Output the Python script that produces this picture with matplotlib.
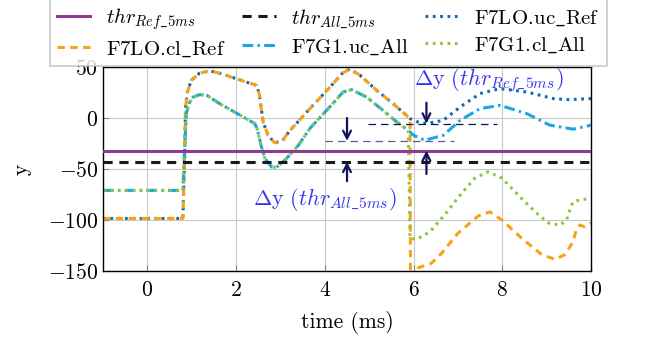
import matplotlib
matplotlib.use('Agg')
import matplotlib.pyplot as plt
import numpy as np

plt.rcParams['font.family'] = 'serif'
plt.rcParams['font.serif'] = ['cmr10']
plt.rcParams['mathtext.fontset'] = 'cm'
plt.rcParams['axes.formatter.use_mathtext'] = True
plt.rcParams['font.size'] = 15.5

# thresholds
thr_ref = -32
thr_all = -43

# F7LO curves (uc and cl identical until the switch near 6 ms)
t_lo = [-1, 0.80, 0.84, 0.86, 0.90, 0.99, 1.18, 1.41, 1.70, 2.00, 2.46, 2.52, 2.61, 2.72,
        2.87, 3.05, 3.20, 3.66, 4.11, 4.40, 4.56, 4.79, 5.17, 5.54, 5.92]
y_lo = [-98.5, -98.5, -40, 10, 25, 37, 44, 46.3, 43, 38.5, 32, 24, -4, -17,
        -24.5, -22, -13, 9, 30, 44, 48, 42, 27, 14, -0.6]

t_lo_uc = [6.10, 6.29, 6.67, 7.05, 7.50, 7.95, 8.55, 9.15, 9.50, 10.0]
y_lo_uc = [-4, -5.5, -2.3, 10.8, 24, 28.8, 25.5, 19, 18, 19]

t_lo_cl = [5.93, 6.03, 6.10, 6.40, 6.63, 7.00, 7.46, 7.72, 7.99, 8.44, 8.89, 9.19,
           9.41, 9.60, 9.66, 9.75, 9.86, 10.0]
y_lo_cl = [-155, -155, -147, -142.5, -132.7, -113, -96, -92, -100, -118, -134, -138.6,
           -134, -121, -110, -105, -106.6, -102.7]

# F7G1 curves
t_g1 = [-1, 0.80, 0.84, 0.88, 0.95, 1.03, 1.18, 1.35, 1.63, 2.00, 2.42, 2.47, 2.57, 2.65,
        2.80, 2.91, 3.13, 3.40, 3.66, 4.11, 4.41, 4.60, 4.94, 5.31, 5.62, 5.88]
y_g1 = [-71, -71, -30, 5, 15, 20.5, 22.9, 22, 14, 5, -5.5, -10, -28, -39.7,
        -48, -48.5, -40, -27, -10.4, 10.8, 25.4, 27.8, 20.5, 7.5, -3.9, -12]

t_g1_uc = [6.00, 6.25, 6.67, 7.05, 7.50, 7.95, 8.55, 9.07, 9.60, 10.0]
y_g1_uc = [-17, -21.8, -17, -2.3, 9.2, 12.4, 4.3, -7, -11, -7]

t_g1_cl = [5.92, 6.07, 6.37, 6.70, 7.05, 7.38, 7.68, 7.99, 8.36, 8.74, 9.04, 9.30,
           9.45, 9.53, 9.60, 9.79, 10.0]
y_g1_cl = [-118, -119, -111.5, -95, -75.6, -59, -52.8, -59, -75.6, -92, -103, -105,
           -100, -88.6, -82, -80, -79]

# delta-y markers
dy_ref_t = 6.29
dy_ref_level = -5.5
dy_all_t = 4.5
dy_all_level = -22.5

c_purple = '#8e3c92'
c_orange = '#f7a21b'
c_dblue = '#1068b4'
c_lblue = '#1ba8e0'
c_green = '#8cc63f'
c_navy = '#12125c'
c_text = '#3838f0'

fig = plt.figure(figsize=(6.49, 3.4), dpi=100)
ax = fig.add_axes([0.1587, 0.203, 0.752, 0.600])

h_ref, = ax.plot([-1, 10], [thr_ref, thr_ref], color=c_purple, lw=2.2, zorder=5,
                 label=r'$thr_{Ref\_5ms}$')
h_all, = ax.plot([-1, 10], [thr_all, thr_all], color='#1a1a1a', lw=2.2, dashes=(3, 2.2), zorder=5,
                 label=r'$thr_{All\_5ms}$')

h_lo_uc, = ax.plot(t_lo + t_lo_uc, y_lo + y_lo_uc, color=c_dblue, lw=2.2, dashes=(0.9, 1.5),
                   label=r'$\mathrm{F7LO.\!uc\_Ref}$')
h_lo_cl, = ax.plot(t_lo + t_lo_cl, y_lo + y_lo_cl, color=c_orange, lw=2.2, dashes=(2.4, 1.8),
                   label=r'$\mathrm{F7LO.\!cl\_Ref}$')
h_g1_uc, = ax.plot(t_g1 + t_g1_uc, y_g1 + y_g1_uc, color=c_lblue, lw=2.2, dashes=(3.5, 1.4, 0.8, 1.4),
                   label=r'$\mathrm{F7G1.\!uc\_All}$')
h_g1_cl, = ax.plot(t_g1 + t_g1_cl, y_g1 + y_g1_cl, color=c_green, lw=2.2, dashes=(0.9, 1.5),
                   label=r'$\mathrm{F7G1.\!cl\_All}$')

# reference levels for the delta-y arrows
ax.plot([4.97, 7.88], [dy_ref_level, dy_ref_level], color=c_navy, lw=0.9, dashes=(6, 4), zorder=6)
ax.plot([4.0, 6.9], [dy_all_level, dy_all_level], color='#5c5c9c', lw=0.9, dashes=(6, 4), zorder=6)

arr = dict(arrowstyle='->', color=c_navy, lw=1.6, mutation_scale=14, shrinkA=0, shrinkB=0)
ax.annotate('', xy=(dy_all_t, dy_all_level), xytext=(dy_all_t, 0), arrowprops=arr, zorder=7)
ax.annotate('', xy=(dy_all_t, thr_all), xytext=(dy_all_t, -62), arrowprops=arr, zorder=7)
ax.annotate('', xy=(dy_ref_t, dy_ref_level), xytext=(dy_ref_t, 15), arrowprops=arr, zorder=7)
ax.annotate('', xy=(dy_ref_t, thr_ref), xytext=(dy_ref_t, -55), arrowprops=arr, zorder=7)

ax.text(7.7, 37, r'$\Delta\mathrm{y}\ (thr_{Ref\_5ms})$', color=c_text, ha='center', va='center',
        fontsize=16, zorder=8)
ax.text(4.0, -80, r'$\Delta\mathrm{y}\ (thr_{All\_5ms})$', color=c_text, ha='center', va='center',
        fontsize=16, zorder=8)

ax.set_xlim(-1, 10)
ax.set_ylim(-150, 50)
ax.set_xticks([0, 2, 4, 6, 8, 10])
ax.set_yticks([-150, -100, -50, 0, 50])
ax.grid(True, color='#c8c8c8', lw=0.8)
ax.set_axisbelow(True)
ax.tick_params(direction='in', length=4, color='#888888', labelsize=15.5)
ax.tick_params(axis='x', pad=7)
for s in ax.spines.values():
    s.set_linewidth(1.0)
ax.set_xlabel('time (ms)', fontsize=15.5, labelpad=8)
ax.set_ylabel('y', fontsize=15.5, labelpad=12)

handles = [h_ref, h_lo_cl, h_all, h_g1_uc, h_lo_uc, h_g1_cl]
leg = fig.legend(handles=handles, loc='upper center', bbox_to_anchor=(0.506, 1.003), ncol=3,
                 fontsize=15, frameon=True, fancybox=False, edgecolor='#bbbbbb',
                 handlelength=1.6, handletextpad=0.75, columnspacing=0.8,
                 borderpad=0.35, labelspacing=0.35, borderaxespad=0.0)
leg.get_frame().set_linewidth(1.2)
leg.set_zorder(10)

fig.savefig('out.png', dpi=100)
